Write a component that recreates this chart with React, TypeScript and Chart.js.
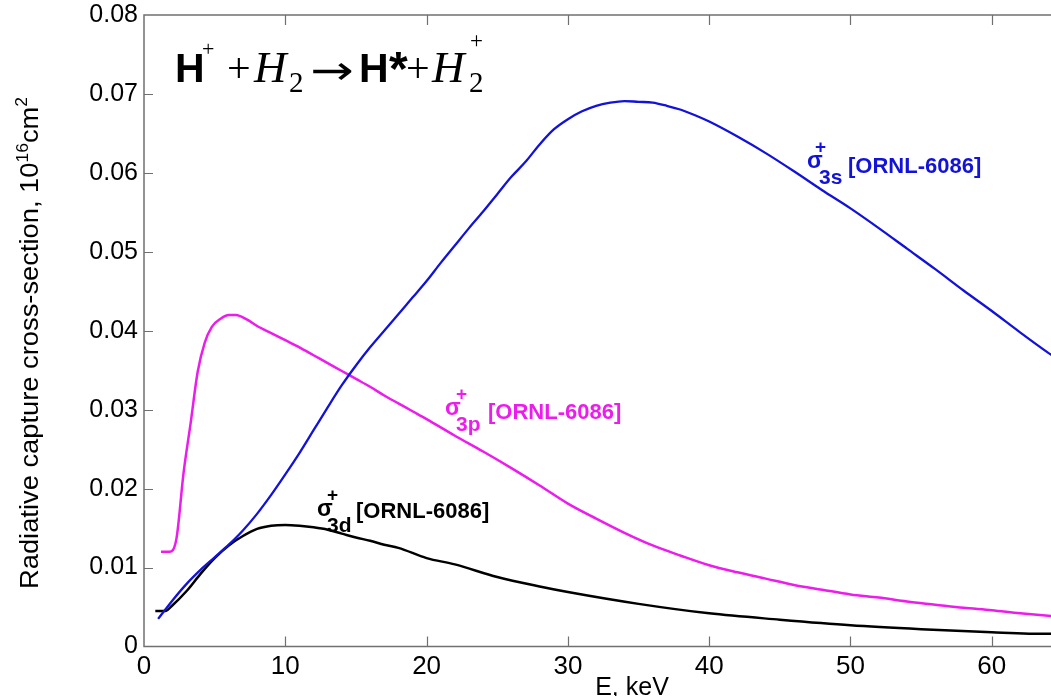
import React, { useEffect, useRef } from "react";
import { Chart, registerables } from "chart.js";

Chart.register(...registerables);

// ---- data (E in keV, cross-section in 1e-16 cm^2) ----
const energy3s = [1, 2, 3, 4, 5, 6, 7, 8, 9, 10, 11, 12, 13, 14, 15, 16, 17, 18, 19, 20, 21, 22, 23, 24, 25, 26, 27, 28, 29, 30, 31, 32, 33, 34, 35, 36, 37, 38, 39, 40, 42, 44, 46, 48, 50, 52, 54, 56, 58, 60, 62, 64, 65];
const sigma3s = [0.0035, 0.0058, 0.0079, 0.0097, 0.0113, 0.0129, 0.0147, 0.0168, 0.0192, 0.0218, 0.0245, 0.0274, 0.0303, 0.0331, 0.0356, 0.0379, 0.04, 0.0421, 0.0442, 0.0463, 0.0486, 0.0508, 0.053, 0.0551, 0.0573, 0.0595, 0.0614, 0.0636, 0.0655, 0.0668, 0.0678, 0.0685, 0.0689, 0.0691, 0.069, 0.0689, 0.0685, 0.068, 0.0673, 0.0665, 0.0646, 0.0625, 0.0602, 0.0578, 0.0555, 0.053, 0.0504, 0.0478, 0.0451, 0.0425, 0.0398, 0.0372, 0.036];

const energy3p = [1.2, 1.8, 2.3, 2.8, 3.3, 3.8, 4.3, 4.8, 5.4, 6, 6.5, 7.3, 8, 9, 10, 11, 12, 13, 14, 15, 16, 17, 18, 19, 20, 22, 24, 26, 28, 30, 32, 34, 36, 38, 40, 42, 44, 46, 48, 50, 52, 54, 56, 58, 60, 62, 64, 65];
const sigma3p = [0.012, 0.012, 0.0137, 0.022, 0.0283, 0.0348, 0.0385, 0.0405, 0.0415, 0.042, 0.042, 0.0414, 0.0406, 0.0397, 0.0388, 0.0379, 0.0369, 0.0359, 0.0349, 0.0339, 0.0329, 0.0318, 0.0308, 0.0298, 0.0288, 0.0267, 0.0247, 0.0226, 0.0204, 0.0181, 0.0162, 0.0144, 0.0128, 0.0115, 0.0103, 0.0094, 0.0086, 0.0078, 0.0072, 0.0066, 0.0062, 0.0057, 0.0053, 0.0049, 0.0046, 0.0042, 0.0039, 0.0038];

const energy3d = [0.8, 1.5, 2, 3, 4, 5, 6, 7, 8, 9, 10, 11, 12, 13, 14, 15, 16, 17, 18, 20, 22, 25, 28, 30, 35, 40, 45, 50, 55, 60, 64, 65];
const sigma3d = [0.0045, 0.0045, 0.0052, 0.007, 0.0092, 0.0112, 0.0128, 0.014, 0.0149, 0.0153, 0.0154, 0.0153, 0.0151, 0.0148, 0.0143, 0.0138, 0.0134, 0.0129, 0.0125, 0.0112, 0.0104, 0.0088, 0.0076, 0.0069, 0.0054, 0.0042, 0.0034, 0.0027, 0.0022, 0.0018, 0.0016, 0.0016];

const xTickValues = [0, 10, 20, 30, 40, 50, 60];
const yTickValues = [0, 0.01, 0.02, 0.03, 0.04, 0.05, 0.06, 0.07, 0.08];
const xMin = 0;
const xMax = 64.19;
const yMin = 0;
const yMax = 0.08;

const seriesLabelSub = ["3s", "3p", "3d"];
const seriesRef = "[ORNL-6086]";
const xTitle = "E, keV";

const BLUE = "#1212d8";
const MAGENTA = "#ec1cec";
const BLACK = "#000000";
const AXIS = "#707070";
const SANS = "'Liberation Sans', Arial, Helvetica, sans-serif";
const SERIF = "'Liberation Serif', 'Times New Roman', serif";

function pts(xs: number[], ys: number[]) {
  return xs.map((x, i) => ({ x, y: ys[i] }));
}

function txt(ctx: CanvasRenderingContext2D, s: string, font: string, x: number, y: number, color = "#000") {
  ctx.font = font;
  ctx.fillStyle = color;
  ctx.fillText(s, x, y);
}

// draw text stretched horizontally so that its ink spans an exact width
function txtInkWidth(ctx: CanvasRenderingContext2D, s: string, font: string, x: number, y: number, w: number, color = "#000") {
  ctx.save();
  ctx.font = font;
  ctx.fillStyle = color;
  const m = ctx.measureText(s);
  const ink = (m.actualBoundingBoxRight + m.actualBoundingBoxLeft) || m.width || 1;
  const k = w / ink;
  ctx.translate(x + m.actualBoundingBoxLeft * k, y);
  ctx.scale(k, 1);
  ctx.fillText(s, 0, 0);
  ctx.restore();
}

function curveLabel(ctx: CanvasRenderingContext2D, color: string, sx: number, sb: number, supX: number, supB: number, subX: number, subB: number, sub: string, refX: number, refB: number) {
  txt(ctx, "σ", `bold 23px ${SANS}`, sx, sb, color);
  txt(ctx, "+", `bold 19px ${SANS}`, supX, supB, color);
  txt(ctx, sub, `bold 21px ${SANS}`, subX, subB, color);
  txt(ctx, seriesRef, `bold 22px ${SANS}`, refX, refB, color);
}

const framePlugin = {
  id: "frame",
  beforeDatasetsDraw(chart: any) {
    const { ctx, chartArea, scales } = chart;
    const { left, top, right, bottom } = chartArea;
    ctx.save();
    ctx.strokeStyle = AXIS;
    ctx.lineWidth = 1.5;
    ctx.beginPath();
    ctx.moveTo(right + 2, top);
    ctx.lineTo(left, top);
    ctx.lineTo(left, bottom);
    ctx.lineTo(right + 2, bottom);
    ctx.stroke();
    ctx.lineWidth = 1.2;
    ctx.beginPath();
    for (const v of xTickValues) {
      if (v === xMin) continue;
      const px = Math.round(scales.x.getPixelForValue(v)) + 0.5;
      ctx.moveTo(px, bottom);
      ctx.lineTo(px, bottom - 10);
      ctx.moveTo(px, top);
      ctx.lineTo(px, top + 10);
    }
    for (const v of yTickValues) {
      if (v === yMin || v === yMax) continue;
      const py = Math.round(scales.y.getPixelForValue(v)) + 0.5;
      ctx.moveTo(left, py);
      ctx.lineTo(left + 9, py);
    }
    ctx.stroke();
    ctx.restore();
  },
  afterDraw(chart: any) {
    const ctx: CanvasRenderingContext2D = chart.ctx;
    ctx.save();
    ctx.textBaseline = "alphabetic";
    ctx.textAlign = "left";

    // reaction equation
    txt(ctx, "H", `bold 41px ${SANS}`, 175, 82);
    txt(ctx, "+", `22px ${SERIF}`, 202, 56);
    txt(ctx, "+", `42px ${SERIF}`, 227, 82);
    txt(ctx, "H", `italic 45px ${SERIF}`, 254, 82);
    txt(ctx, "2", `29px ${SERIF}`, 289, 92);
    txtInkWidth(ctx, "→", `40px 'DejaVu Sans', ${SANS}`, 313, 84, 39);
    txt(ctx, "H", `bold 41px ${SANS}`, 359, 82);
    txt(ctx, "*", `bold 48px ${SANS}`, 389, 85);
    txt(ctx, "+", `42px ${SERIF}`, 406, 82);
    txt(ctx, "H", `italic 45px ${SERIF}`, 432, 82);
    txt(ctx, "2", `29px ${SERIF}`, 469, 92);
    txt(ctx, "+", `23px ${SERIF}`, 470, 48);

    // curve labels
    curveLabel(ctx, BLUE, 807, 168, 815, 153, 819, 184, seriesLabelSub[0], 848, 173);
    curveLabel(ctx, MAGENTA, 445, 415, 456, 400, 456, 431, seriesLabelSub[1], 488, 419);
    curveLabel(ctx, BLACK, 317, 516, 327, 501, 327, 532, seriesLabelSub[2], 356, 518);

    // x axis title
    ctx.textAlign = "center";
    txt(ctx, xTitle, `25px ${SANS}`, 632, 695);

    // y axis title (rotated, with superscripts)
    ctx.textAlign = "left";
    const parts: [string, number, number][] = [
      ["Radiative capture cross-section, 10", 25, 0],
      ["16", 16, -10],
      ["cm", 25, 0],
      ["2", 16, -11],
    ];
    let W = 0;
    for (const [s, f] of parts) {
      ctx.font = `${f}px ${SANS}`;
      W += ctx.measureText(s).width;
    }
    const target = 492;
    const sx = target / W;
    ctx.translate(38, 343 + target / 2);
    ctx.rotate(-Math.PI / 2);
    ctx.scale(sx, 1);
    let cx = 0;
    for (const [s, f, dy] of parts) {
      ctx.font = `${f}px ${SANS}`;
      ctx.fillStyle = "#000";
      ctx.fillText(s, cx, dy);
      cx += ctx.measureText(s).width;
    }
    ctx.restore();
  },
};

export default function App() {
  const ref = useRef<HTMLCanvasElement | null>(null);

  useEffect(() => {
    document.body.style.margin = "0";
    const canvas = ref.current;
    if (!canvas) return;
    const chart = new Chart(canvas, {
      type: "line",
      data: {
        datasets: [
          { label: "sigma3s", data: pts(energy3s, sigma3s), borderColor: BLUE, borderWidth: 2.3 },
          { label: "sigma3p", data: pts(energy3p, sigma3p), borderColor: MAGENTA, borderWidth: 2.5 },
          { label: "sigma3d", data: pts(energy3d, sigma3d), borderColor: BLACK, borderWidth: 2.5 },
        ].map((d) => ({ ...d, pointRadius: 0, fill: false, cubicInterpolationMode: "monotone" as const })),
      },
      options: {
        animation: false,
        responsive: false,
        devicePixelRatio: 1,
        layout: { padding: { top: 15, left: 0, right: 0, bottom: 0 } },
        plugins: { legend: { display: false }, tooltip: { enabled: false }, title: { display: false } },
        scales: {
          x: {
            type: "linear",
            min: xMin,
            max: xMax,
            grid: { display: false, drawTicks: false },
            border: { display: false },
            afterBuildTicks: (s: any) => {
              s.ticks = xTickValues.map((v) => ({ value: v }));
            },
            afterFit: (s: any) => {
              s.height = 49.5;
              s.paddingLeft = 0;
              s.paddingRight = 0;
            },
            ticks: {
              autoSkip: false,
              maxRotation: 0,
              padding: 5,
              color: "#000",
              font: { family: SANS, size: 26 },
              callback: (v: any) => String(v),
            },
          },
          y: {
            type: "linear",
            min: yMin,
            max: yMax,
            grid: { display: false, drawTicks: false },
            border: { display: false },
            afterBuildTicks: (s: any) => {
              s.ticks = yTickValues.map((v) => ({ value: v }));
            },
            afterFit: (s: any) => {
              s.width = 144;
              s.paddingTop = 0;
              s.paddingBottom = 0;
            },
            ticks: {
              padding: 6,
              color: "#000",
              font: { family: SANS, size: 25 },
              callback: (v: any) => (Number(v) === 0 ? "0" : Number(v).toFixed(2)),
            },
          },
        },
      },
      plugins: [framePlugin],
    });
    return () => chart.destroy();
  }, []);

  return (
    <div style={{ width: 1051, height: 696, background: "#fff" }}>
      <canvas ref={ref} width={1051} height={696} style={{ display: "block", width: 1051, height: 696 }} />
    </div>
  );
}
